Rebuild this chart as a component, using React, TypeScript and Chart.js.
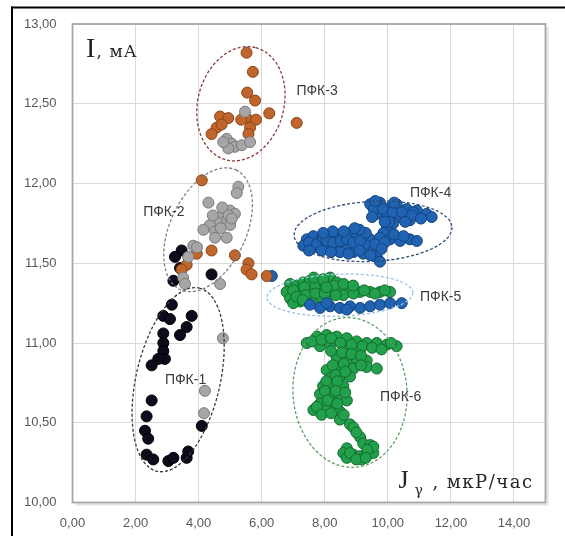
import React, { useEffect, useRef } from 'react';
import { Chart, registerables } from 'chart.js';

Chart.register(...registerables);

// ---- axes ----
const X_MIN = 0, X_MAX = 15, X_STEP = 2;
const Y_MIN = 10, Y_MAX = 13, Y_STEP = 0.5;

// ---- series values [Jγ, I] ----
const grayPts: [number, number][] = [
  [4.89, 12.28], [5.05, 12.25], [5.15, 12.23], [5.37, 12.24], [5.47, 12.45], [5.63, 12.26], [4.94, 12.22], [4.78, 12.26],
  [5.26, 11.98], [5.21, 11.94], [4.31, 11.88], [5.00, 11.83], [5.15, 11.81], [4.68, 11.79], [4.89, 11.77], [4.57, 11.76],
  [4.36, 11.74], [5.00, 11.74], [4.15, 11.71], [4.52, 11.70], [4.52, 11.66], [4.89, 11.66], [3.83, 11.61], [3.67, 11.54],
  [3.51, 11.41], [4.68, 11.37], [3.95, 11.60], [3.57, 11.37], [4.77, 11.03], [4.20, 10.70], [4.17, 10.56],
  [4.75, 11.85], [4.95, 11.80], [4.45, 11.80], [4.70, 11.72], [5.05, 11.78],
];
const orangePts: [number, number][] = [
  [5.52, 12.82], [5.72, 12.70], [5.54, 12.57], [5.79, 12.52], [6.24, 12.44], [7.11, 12.38], [4.68, 12.42], [4.94, 12.41],
  [4.57, 12.35], [4.41, 12.31], [5.52, 12.41], [5.82, 12.40], [5.63, 12.35], [5.58, 12.31], [4.73, 12.37], [5.35, 12.40],
  [4.10, 12.02], [3.94, 11.56], [3.62, 11.49], [3.46, 11.46], [4.41, 11.58], [5.15, 11.55], [5.58, 11.50], [5.52, 11.46],
  [5.68, 11.43], [6.16, 11.42],
];
const blackPts: [number, number][] = [
  [4.41, 11.43], [3.20, 11.39], [3.46, 11.58], [3.41, 11.47], [3.25, 11.54], [3.15, 11.24], [2.88, 11.17], [3.09, 11.15],
  [3.78, 11.17], [3.62, 11.10], [3.41, 11.05], [2.88, 11.06], [2.88, 11.00], [2.88, 10.95], [2.93, 10.90], [2.72, 10.90],
  [2.51, 10.86], [2.51, 10.64], [2.35, 10.54], [2.30, 10.45], [2.40, 10.40], [2.35, 10.30], [2.56, 10.27], [3.04, 10.26],
  [3.20, 10.28], [3.62, 10.28], [3.67, 10.32], [4.10, 10.48],
];
const bluePts: [number, number][] = [
  [9.44, 11.87], [9.75, 11.88], [10.07, 11.85], [10.28, 11.87], [10.60, 11.84], [10.92, 11.83], [11.23, 11.81], [11.39, 11.79],
  [9.65, 11.81], [9.97, 11.79], [10.39, 11.79], [10.70, 11.77], [10.17, 11.75], [9.97, 11.72], [9.86, 11.69], [10.80, 11.82],
  [9.55, 11.84], [9.85, 11.84], [10.15, 11.82], [10.45, 11.82], [10.75, 11.80], [11.05, 11.78], [10.05, 11.76], [10.55, 11.76],
  [9.90, 11.76], [9.50, 11.79], [10.20, 11.88], [9.60, 11.89],
  [7.43, 11.65], [7.64, 11.67], [7.85, 11.64], [8.17, 11.67], [8.38, 11.68], [8.59, 11.66], [8.80, 11.69], [9.01, 11.66],
  [9.22, 11.67], [9.44, 11.65], [9.75, 11.66], [10.07, 11.65], [10.39, 11.64], [10.70, 11.65], [10.92, 11.64], [7.64, 11.60],
  [8.06, 11.60], [8.38, 11.61], [8.70, 11.60], [9.01, 11.60], [9.33, 11.61], [9.54, 11.58], [9.22, 11.56], [9.65, 11.54],
  [9.75, 11.51], [8.91, 11.57], [8.48, 11.57], [7.32, 11.61],
  [7.50, 11.63], [7.75, 11.62], [7.95, 11.66], [8.06, 11.64], [8.27, 11.63], [8.50, 11.64], [8.70, 11.65], [8.90, 11.63],
  [9.12, 11.64], [9.30, 11.69], [9.10, 11.71], [8.95, 11.72], [8.60, 11.70], [8.25, 11.70], [7.95, 11.69], [9.60, 11.62],
  [9.90, 11.63], [10.20, 11.68], [10.50, 11.67], [9.80, 11.59], [9.45, 11.55], [9.10, 11.58], [8.75, 11.56], [7.90, 11.58],
  [7.50, 11.58], [8.20, 11.57],
  [6.32, 11.42],
  [7.85, 11.22], [8.17, 11.23], [8.48, 11.22], [8.80, 11.23], [9.12, 11.22], [9.44, 11.23], [9.75, 11.24], [10.07, 11.25],
  [10.44, 11.25], [8.06, 11.25], [8.70, 11.21], [7.53, 11.24],
];
const greenPts: [number, number][] = [
  [6.90, 11.37], [6.79, 11.32], [6.90, 11.28], [7.11, 11.36], [7.32, 11.38], [7.53, 11.39], [7.85, 11.39], [8.17, 11.41],
  [8.38, 11.38], [7.22, 11.32], [7.53, 11.32], [7.85, 11.34], [8.17, 11.33], [8.48, 11.33], [8.80, 11.34], [9.12, 11.32],
  [9.44, 11.32], [9.75, 11.32], [10.07, 11.32], [7.22, 11.26], [7.53, 11.28], [7.85, 11.29], [8.17, 11.30], [8.59, 11.30],
  [8.91, 11.31], [7.00, 11.25],
  [7.00, 11.33], [7.35, 11.35], [7.70, 11.36], [8.00, 11.37], [8.30, 11.36], [8.60, 11.37], [7.40, 11.30], [7.70, 11.31],
  [8.00, 11.31], [8.35, 11.30], [7.10, 11.29], [7.65, 11.41], [7.95, 11.40], [8.05, 11.35], [7.30, 11.27], [7.60, 11.25],
  [8.90, 11.36], [9.25, 11.33], [9.60, 11.31], [9.90, 11.33],
  [7.43, 11.00], [7.75, 11.04], [8.06, 11.05], [8.38, 11.04], [8.70, 11.03], [9.01, 11.01], [9.33, 11.00], [9.65, 11.00],
  [9.97, 10.99], [10.28, 10.98], [7.85, 10.98], [8.17, 10.99], [8.59, 10.98], [9.12, 10.96], [8.38, 10.91], [8.70, 10.89],
  [9.01, 10.90], [9.33, 10.89], [8.48, 10.85], [8.91, 10.84], [9.33, 10.85], [9.65, 10.84], [8.06, 10.83], [8.17, 10.78],
  [8.48, 10.79], [8.80, 10.79], [7.95, 10.73], [8.27, 10.74], [8.59, 10.73], [7.85, 10.68], [8.17, 10.67], [8.48, 10.66],
  [8.70, 10.64], [7.85, 10.62], [8.27, 10.61], [7.64, 10.58], [8.06, 10.58], [8.48, 10.57], [8.48, 10.52], [8.80, 10.49],
  [8.91, 10.47], [9.12, 10.41], [9.22, 10.37], [9.44, 10.36], [8.70, 10.34], [8.59, 10.31], [8.91, 10.30], [9.12, 10.29],
  [9.54, 10.31], [9.54, 10.35], [8.70, 10.28], [9.17, 10.27],
  [7.60, 11.01], [7.90, 11.02], [8.20, 11.03], [8.50, 11.00], [8.85, 10.99], [9.20, 10.98], [9.50, 10.97], [9.80, 10.96],
  [10.10, 11.00], [8.20, 10.95], [8.55, 10.94], [8.85, 10.93], [9.15, 10.92], [8.60, 10.87], [9.15, 10.86], [8.25, 10.86],
  [8.35, 10.80], [8.65, 10.82], [8.05, 10.76], [8.40, 10.76], [8.00, 10.70], [8.35, 10.70], [8.65, 10.69], [8.10, 10.64],
  [8.40, 10.62], [7.75, 10.60], [7.90, 10.55], [8.20, 10.56], [8.60, 10.55], [9.00, 10.44], [9.35, 10.33], [8.80, 10.31],
  [9.00, 10.27], [9.30, 10.28],
];

// ---- cluster annotations ----
const clusterNames = ['ПФК-1', 'ПФК-2', 'ПФК-3', 'ПФК-4', 'ПФК-5', 'ПФК-6'];
const labelX = [2.93, 2.24, 7.10, 10.70, 11.02, 9.75];
const labelY = [10.77, 11.82, 12.58, 11.94, 11.29, 10.66];
const ellipseCX = [3.35, 4.30, 5.34, 9.53, 8.48, 8.80];
const ellipseCY = [10.77, 11.71, 12.50, 11.70, 11.30, 10.69];

// ellipse shape/style (screen pixels, degrees, colours)
const ELLIPSE_STYLE = [
  { rx: 94, ry: 42, rot: -77, color: '#3a3a3a' },
  { rx: 66, ry: 38, rot: -65, color: '#7f7f7f' },
  { rx: 58, ry: 43, rot: -75, color: '#8e3b3b' },
  { rx: 79, ry: 30, rot: -3, color: '#2f4b7c' },
  { rx: 73, ry: 21, rot: -2, color: '#9dc3e6' },
  { rx: 57, ry: 75, rot: -4, color: '#5f9f62' },
];

const fmt = (v: number) => v.toFixed(2).replace('.', ',');

const toXY = (pts: [number, number][]) => pts.map(([x, y]) => ({ x, y }));

const overlayPlugin = {
  id: 'overlay',
  beforeDraw(chart: any) {
    const ctx = chart.ctx;
    ctx.save();
    ctx.fillStyle = '#ffffff';
    ctx.fillRect(0, 0, chart.width, chart.height);
    ctx.fillStyle = '#000000';
    ctx.fillRect(11, 6.5, 2, chart.height);
    ctx.fillRect(11, 6.5, chart.width, 2);
    ctx.restore();
  },
  beforeDatasetsDraw(chart: any) {
    const ctx = chart.ctx;
    const ca = chart.chartArea;
    ctx.save();
    ctx.strokeStyle = '#e3e3e3';
    ctx.lineWidth = 2;
    ctx.beginPath();
    ctx.moveTo(ca.right + 2, ca.top + 3);
    ctx.lineTo(ca.right + 2, ca.bottom + 2);
    ctx.lineTo(ca.left + 3, ca.bottom + 2);
    ctx.stroke();
    ctx.strokeStyle = '#a6a6a6';
    ctx.lineWidth = 1.8;
    ctx.strokeRect(ca.left, ca.top, ca.right - ca.left, ca.bottom - ca.top);
    ctx.restore();
  },
  afterDatasetsDraw(chart: any) {
    const ctx = chart.ctx;
    const xs = chart.scales.x;
    const ys = chart.scales.y;
    const ca = chart.chartArea;
    ctx.save();
    // ellipses
    ELLIPSE_STYLE.forEach((e, i) => {
      const cx = xs.getPixelForValue(ellipseCX[i]);
      const cy = ys.getPixelForValue(ellipseCY[i]);
      ctx.beginPath();
      ctx.setLineDash([3, 2]);
      ctx.lineWidth = 1.3;
      ctx.strokeStyle = e.color;
      ctx.ellipse(cx, cy, e.rx, e.ry, (e.rot * Math.PI) / 180, 0, Math.PI * 2);
      ctx.stroke();
    });
    ctx.setLineDash([]);
    // cluster labels
    ctx.fillStyle = '#3a3a3a';
    ctx.font = '14px "Liberation Sans", Arial, sans-serif';
    ctx.textAlign = 'left';
    ctx.textBaseline = 'middle';
    clusterNames.forEach((n, i) => {
      ctx.fillText(n, xs.getPixelForValue(labelX[i]), ys.getPixelForValue(labelY[i]));
    });
    // axis titles
    ctx.fillStyle = '#262626';
    ctx.textBaseline = 'alphabetic';
    ctx.textAlign = 'left';
    ctx.font = '28px "Liberation Serif", serif';
    ctx.fillText('I', ca.left + 13.5, ca.top + 33);
    ctx.font = '17px "DejaVu Serif", serif';
    (ctx as any).letterSpacing = '1px';
    ctx.textAlign = 'right';
    ctx.fillText(', мА', ca.left + 65, ca.top + 33);
    (ctx as any).letterSpacing = '0px';
    ctx.textAlign = 'left';
    ctx.font = '26px "Liberation Serif", serif';
    ctx.fillText('J', ca.right - 147, ca.bottom - 14.5);
    ctx.font = '14px "DejaVu Serif", serif';
    ctx.fillText('γ', ca.right - 131, ca.bottom - 8);
    ctx.font = '18px "DejaVu Serif", serif';
    (ctx as any).letterSpacing = '1.5px';
    ctx.textAlign = 'right';
    ctx.fillText(', мкР/час', ca.right - 12, ca.bottom - 15);
    (ctx as any).letterSpacing = '0px';
    ctx.restore();
  },
};

const pointStyle = (fill: string, border: string) => ({
  backgroundColor: fill,
  borderColor: border,
  borderWidth: 1,
  pointRadius: 5.5,
  pointHoverRadius: 5.5,
});

export default function App() {
  const ref = useRef<HTMLCanvasElement>(null);
  useEffect(() => {
    if (!ref.current) return;
    const chart = new Chart(ref.current, {
      type: 'scatter',
      data: {
        datasets: [
          { label: 'gray', data: toXY(grayPts), ...pointStyle('#a6a6a6', '#7a7a7a') },
          { label: 'orange', data: toXY(orangePts), ...pointStyle('#c0652b', '#8a4517') },
          { label: 'black', data: toXY(blackPts), ...pointStyle('#0c0c1c', '#000000') },
          { label: 'blue', data: toXY(bluePts), ...pointStyle('#1f63b2', '#15447d') },
          { label: 'green', data: toXY(greenPts), ...pointStyle('#22a04b', '#136b2f') },
        ],
      },
      options: {
        responsive: false,
        animation: false,
        events: [],
        layout: { padding: { top: 24, right: 19.5, bottom: 0, left: 0 } },
        plugins: { legend: { display: false }, tooltip: { enabled: false }, title: { display: false } },
        scales: {
          x: {
            type: 'linear',
            min: X_MIN,
            max: X_MAX,
            afterFit: (s: any) => { s.height = 33.5; },
            border: { display: false },
            grid: { color: '#d9d9d9', lineWidth: 1, drawTicks: false },
            ticks: {
              stepSize: X_STEP,
              includeBounds: false,
              padding: 13,
              color: '#595959',
              font: { family: '"Liberation Sans", Arial, sans-serif', size: 13 },
              callback: (v: any) => fmt(Number(v)),
              maxRotation: 0,
            },
          },
          y: {
            type: 'linear',
            min: Y_MIN,
            max: Y_MAX,
            afterFit: (s: any) => { s.width = 72.5; },
            border: { display: false },
            grid: { color: '#d9d9d9', lineWidth: 1, drawTicks: false },
            ticks: {
              stepSize: Y_STEP,
              padding: 16,
              color: '#595959',
              font: { family: '"Liberation Sans", Arial, sans-serif', size: 13 },
              callback: (v: any) => fmt(Number(v)),
            },
          },
        },
      },
      plugins: [overlayPlugin],
    } as any);
    return () => chart.destroy();
  }, []);
  return (
    <div style={{ position: 'fixed', left: 0, top: 0, width: 565, height: 536, background: '#fff' }}>
      <canvas ref={ref} width={565} height={536} style={{ width: 565, height: 536, display: 'block' }} />
    </div>
  );
}
